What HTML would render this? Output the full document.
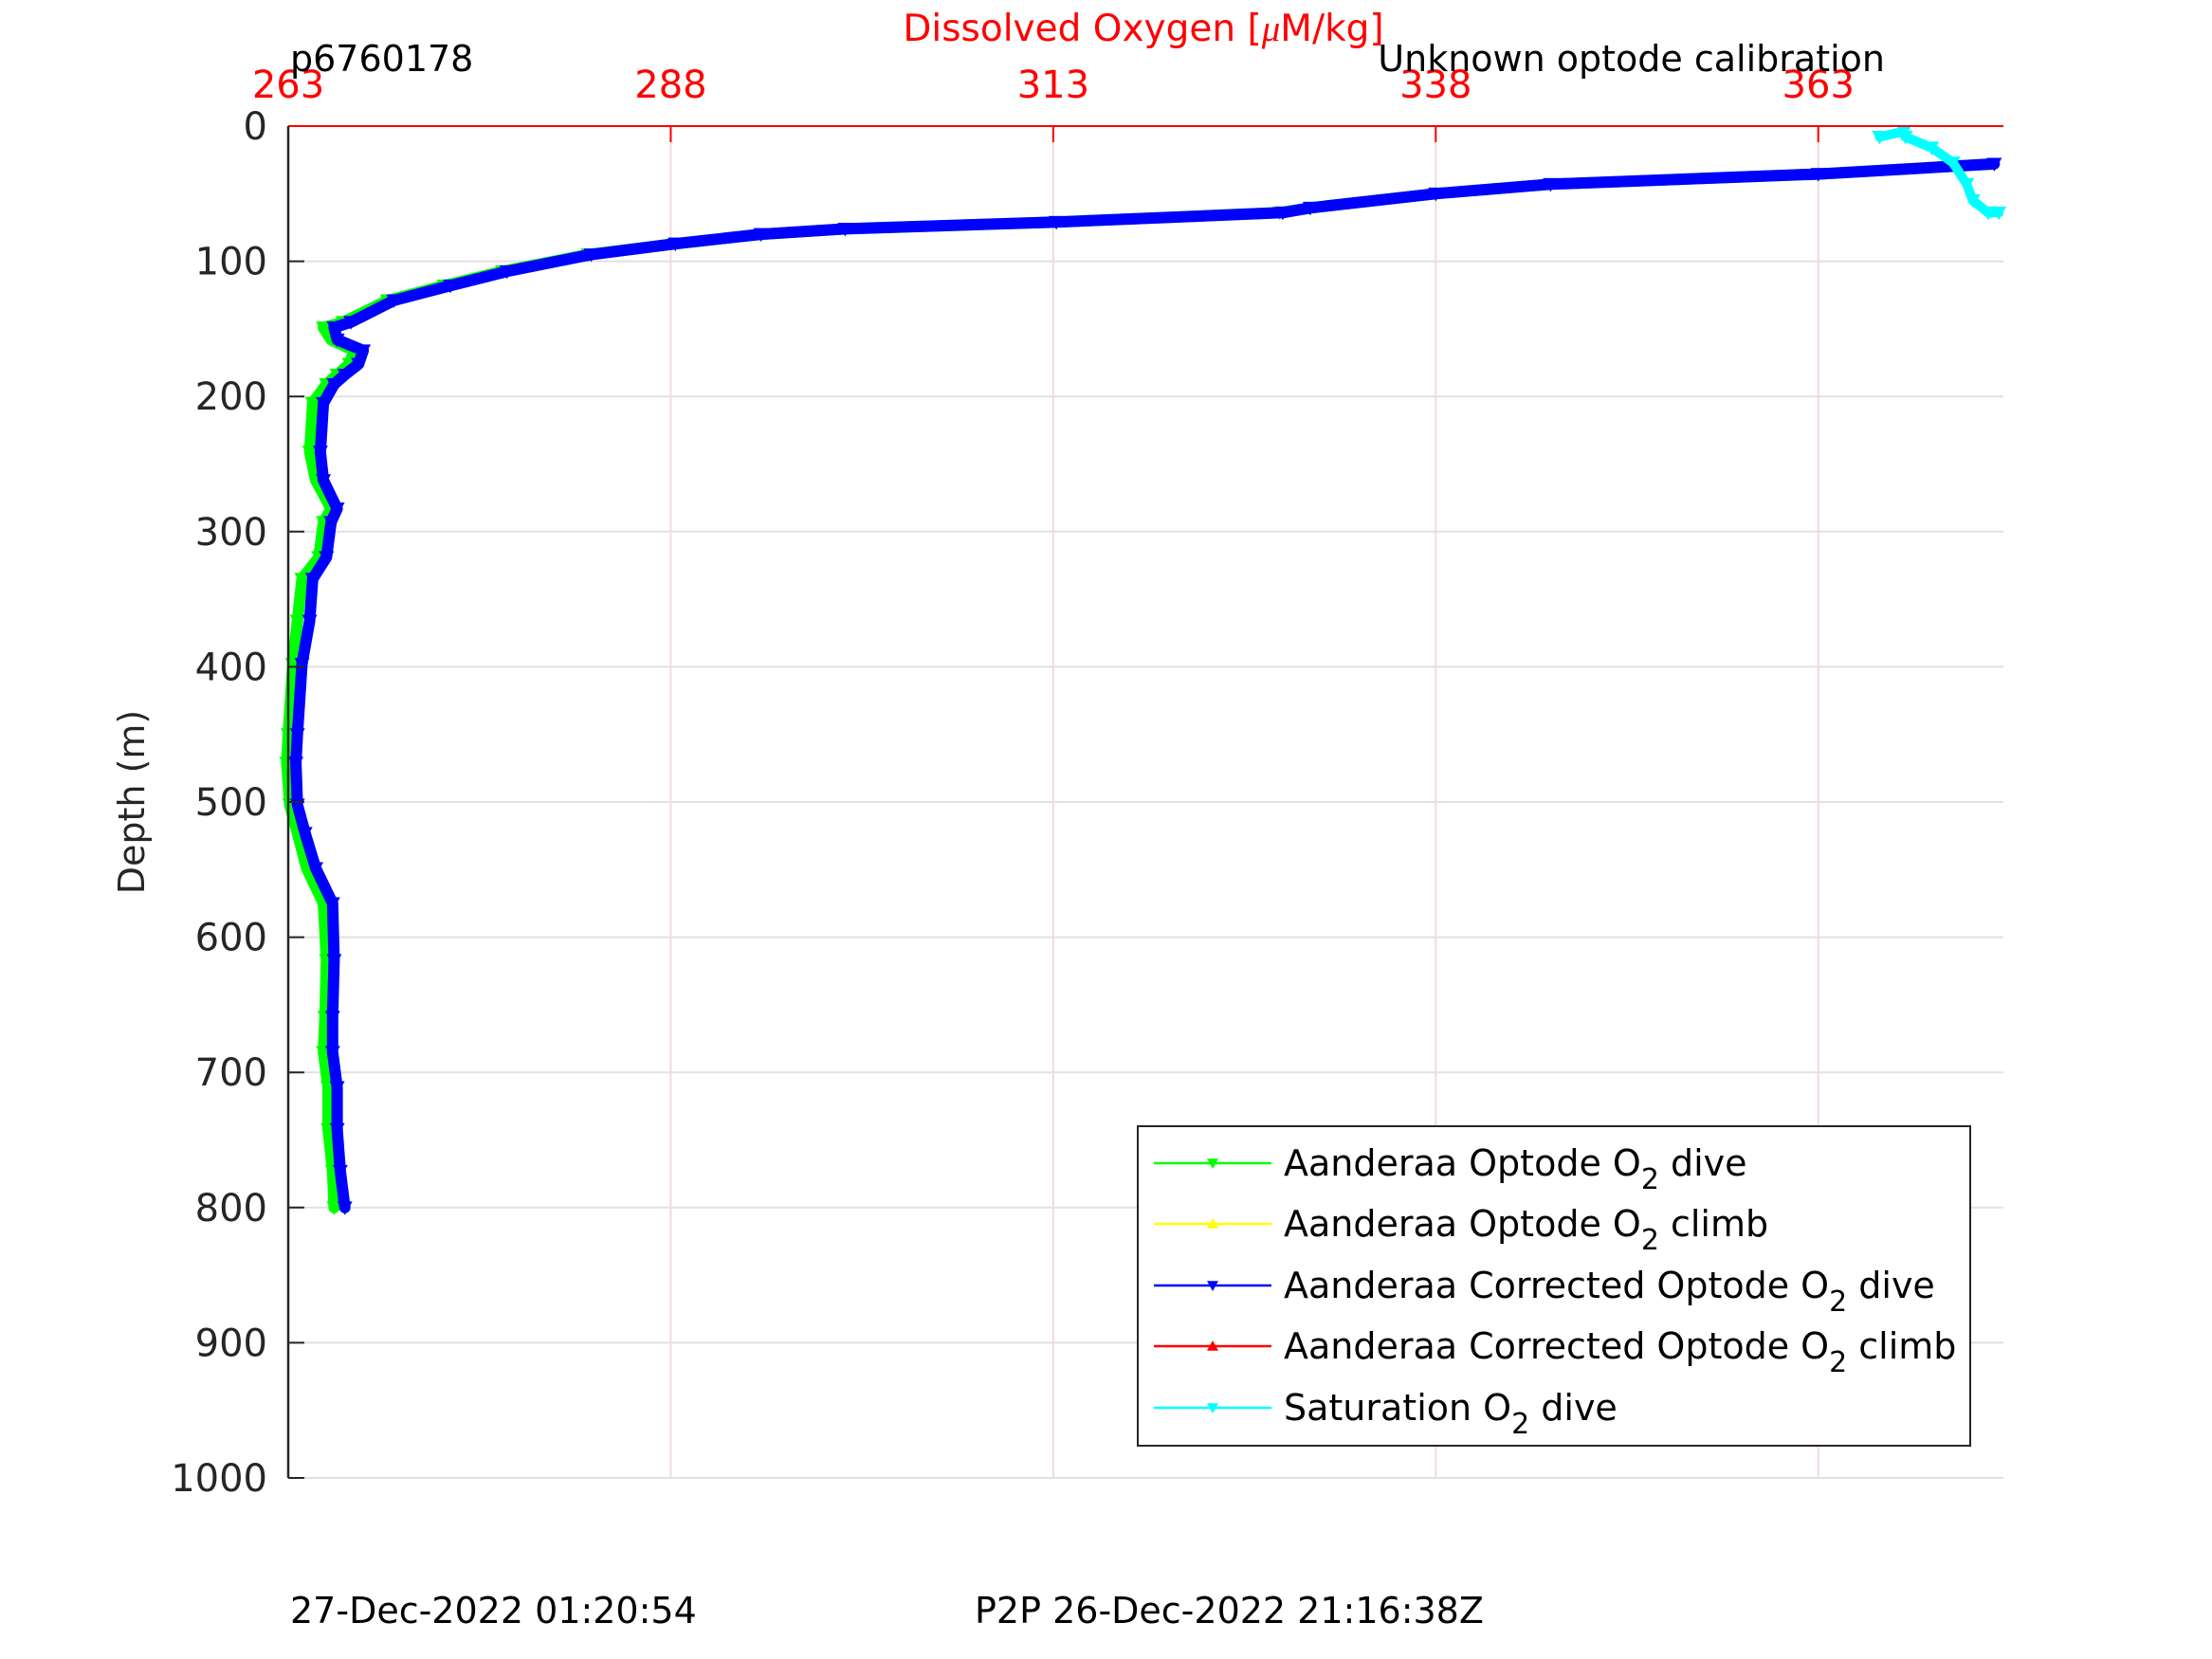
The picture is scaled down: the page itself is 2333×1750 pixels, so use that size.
<!DOCTYPE html>
<html><head><meta charset="utf-8">
<style>
html,body{margin:0;padding:0;background:#fff;}
svg{display:block;font-family:"DejaVu Sans","Liberation Sans",sans-serif;}
</style></head>
<body>
<svg id="chart" width="2333" height="1750" viewBox="0 0 2333 1750" xmlns="http://www.w3.org/2000/svg">
<rect x="0" y="0" width="2333" height="1750" fill="#fff"/>
<g id="grid"></g>
<g id="series"></g>
<g id="axes"></g>
<text x="1206" y="43" font-size="39" fill="#ff0000" text-anchor="middle">Dissolved Oxygen [<tspan font-style="italic" font-family="Liberation Serif, serif">μ</tspan>M/kg]</text>
<text x="306" y="75" font-size="38" fill="#000">p6760178</text>
<text x="1988" y="75" font-size="38" fill="#000" text-anchor="end">Unknown optode calibration</text>
<text transform="translate(152,846) rotate(-90)" font-size="38" fill="#262626" text-anchor="middle">Depth (m)</text>
<text x="306" y="1712" font-size="38" fill="#000">27-Dec-2022 01:20:54</text>
<text x="1028" y="1712" font-size="38" fill="#000">P2P 26-Dec-2022 21:16:38Z</text>
<g id="legend">
<rect x="1200" y="1188" width="878" height="337" fill="#fff" stroke="#262626" stroke-width="2"/>
</g>
</svg>
<script>
// ---- data ----
const xTicks = [263, 288, 313, 338, 363];
const yTicks = [0, 100, 200, 300, 400, 500, 600, 700, 800, 900, 1000];
const blueDepth = [28, 35.5, 43, 50, 60.5, 64, 71, 76, 80, 87, 95, 107.5, 118, 129, 145, 149, 158, 166, 176, 184, 191, 205, 241, 262, 283, 293, 319, 335, 366, 398, 450, 471, 502, 523, 549, 575, 617, 659, 685, 711, 742, 773, 800];
const blueO2 = [374.5, 363.0, 345.5, 338.0, 329.8, 328.0, 313.2, 299.4, 293.9, 288.3, 282.8, 277.3, 273.6, 269.9, 267.1, 266.0, 266.2, 267.9, 267.6, 266.7, 266.0, 265.3, 265.1, 265.3, 266.2, 265.8, 265.5, 264.6, 264.4, 263.9, 263.6, 263.5, 263.6, 264.1, 264.8, 265.9, 266.0, 265.9, 265.9, 266.2, 266.2, 266.4, 266.7];
const greenDepth = [28, 35.5, 43, 50, 60.5, 64, 71, 76, 80, 87, 95, 107.5, 118, 129, 145, 149, 158, 166, 176, 184, 191, 205, 241, 262, 283, 293, 319, 335, 366, 398, 450, 471, 502, 523, 549, 575, 617, 659, 685, 711, 742, 773, 800];
const greenO2 = [374.5, 363.0, 345.5, 338.0, 329.8, 327.8, 313.2, 299.4, 293.9, 288.3, 282.6, 277.0, 273.2, 269.5, 266.6, 265.3, 265.8, 267.3, 267.0, 266.2, 265.5, 264.6, 264.4, 264.8, 265.8, 265.3, 265.0, 263.9, 263.6, 263.3, 263.0, 262.9, 263.1, 263.6, 264.2, 265.3, 265.5, 265.4, 265.3, 265.6, 265.6, 265.9, 266.0];
const cyanDepth = [8, 4, 8, 16, 27, 43, 55, 64, 64];
const cyanO2 = [367.0, 368.6, 368.7, 370.4, 371.8, 372.7, 373.1, 374.1, 374.8];

// ---- axes ----
const X0 = 304, X1 = 2113, Y0 = 133, Y1 = 1559;
const XMIN = 263, XMAX = 375.1, YMIN = 0, YMAX = 1000;
function sx(v){ return X0 + (v - XMIN) / (XMAX - XMIN) * (X1 - X0); }
function sy(d){ return Y0 + (d - YMIN) / (YMAX - YMIN) * (Y1 - Y0); }
const NS = 'http://www.w3.org/2000/svg';
function mk(tag, attrs, parent){
  const e = document.createElementNS(NS, tag);
  for (const k in attrs) e.setAttribute(k, attrs[k]);
  parent.appendChild(e);
  return e;
}
const grid = document.getElementById('grid');
const axes = document.getElementById('axes');
const series = document.getElementById('series');

yTicks.forEach(t => {
  const g = mk('line', {x1: X0, x2: X1, y1: sy(t), y2: sy(t), stroke: '#e1e1e1', 'stroke-width': 2}, grid);
  
  
  const tk = mk('line', {x1: X0, x2: X0 + 17, y1: sy(t), y2: sy(t), stroke: '#262626', 'stroke-width': 2}, axes);
  
  
  const lb = mk('text', {x: 282, y: sy(t) + 14, 'font-size': 40, fill: '#262626', 'text-anchor': 'end'}, axes);
  lb.textContent = String(t);
  
  
});
xTicks.forEach(t => {
  const g = mk('line', {x1: sx(t), x2: sx(t), y1: Y0, y2: Y1, stroke: '#f6d8dc', 'stroke-width': 2}, grid);
  
  
  const tk = mk('line', {x1: sx(t), x2: sx(t), y1: Y0, y2: Y0 + 17, stroke: '#ff0000', 'stroke-width': 2}, axes);
  
  
  const lb = mk('text', {x: sx(t), y: 103, 'font-size': 40, fill: '#ff0000', 'text-anchor': 'middle'}, axes);
  lb.textContent = String(t);
  
  
});
const topAxis = mk('line', {x1: X0, x2: X1, y1: Y0, y2: Y0, stroke: '#ff0000', 'stroke-width': 2}, axes);


const leftAxis = mk('line', {x1: X0, x2: X0, y1: Y0, y2: Y1, stroke: '#262626', 'stroke-width': 2.5}, axes);



function tri(cx, cy, s, up){
  return up ? `${cx-s},${cy+s*0.8} ${cx+s},${cy+s*0.8} ${cx},${cy-s}`
            : `${cx-s},${cy-s*0.8} ${cx+s},${cy-s*0.8} ${cx},${cy+s}`;
}
function drawSeries(xs, ds, color, width, name){
  const g = mk('g', {}, series);
  
  
  const pts = xs.map((v, i) => sx(v).toFixed(1) + ',' + sy(ds[i]).toFixed(1)).join(' ');
  const pl = mk('polyline', {points: pts, fill: 'none', stroke: color, 'stroke-width': width, 'stroke-linejoin': 'round', 'stroke-linecap': 'round'}, g);
  
  
  xs.forEach((v, i) => {
    const m = mk('polygon', {points: tri(sx(v), sy(ds[i]), 8, false), fill: color}, g);
    
    
  });
}
drawSeries(greenO2, greenDepth, '#00ff00', 12, 'optode-dive-series');
drawSeries(blueO2, blueDepth, '#0000ff', 12, 'corrected-optode-dive-series');
drawSeries(cyanO2, cyanDepth, '#00ffff', 10, 'saturation-dive-series');

// ---- legend ----
const legend = document.getElementById('legend');
const legColors = ['#00ff00', '#ffff00', '#0000ff', '#ff0000', '#00ffff'];
const legUp = [false, true, false, true, false];
const legPre = ['Aanderaa Optode O', 'Aanderaa Optode O', 'Aanderaa Corrected Optode O', 'Aanderaa Corrected Optode O', 'Saturation O'];
const legPost = [' dive', ' climb', ' dive', ' climb', ' dive'];
const legY = [1227, 1291, 1356, 1420, 1485];
legY.forEach((y, i) => {
  const ln = mk('line', {x1: 1217, x2: 1341, y1: y, y2: y, stroke: legColors[i], 'stroke-width': 2.5}, legend);
  
  
  const mkk = mk('polygon', {points: tri(1279, y, 6, legUp[i]), fill: legColors[i]}, legend);
  
  
  const tx = mk('text', {x: 1354, y: y + 13, 'font-size': 38, fill: '#000'}, legend);
  
  
  const a = document.createElementNS(NS, 'tspan'); a.textContent = legPre[i]; tx.appendChild(a);
  const b = document.createElementNS(NS, 'tspan'); b.textContent = '2'; b.setAttribute('dy', '14'); b.setAttribute('font-size', '30'); tx.appendChild(b);
  const c = document.createElementNS(NS, 'tspan'); c.textContent = legPost[i]; c.setAttribute('dy', '-14'); tx.appendChild(c);
});
</script>
</body></html>
